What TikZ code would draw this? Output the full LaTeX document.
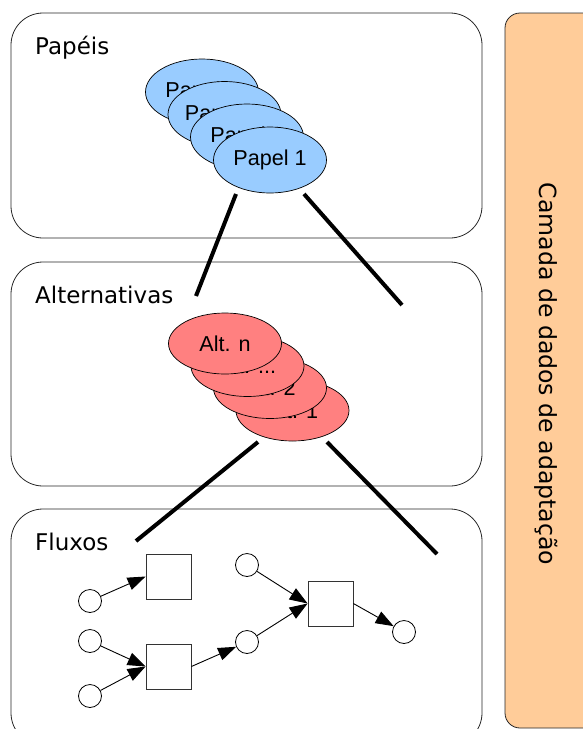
\documentclass[tikz,border=0pt]{standalone}
\usepackage{fontspec}
\setmainfont{Liberation Sans}
\newfontfamily\labelfont{DejaVu Sans}
\usetikzlibrary{shapes.geometric,arrows.meta}

\definecolor{papelblue}{HTML}{99CCFF}
\definecolor{altred}{HTML}{FF8080}
\definecolor{layerorange}{HTML}{FFCC99}

\tikzset{
  layerbox/.style={draw=black!85, line width=0.8pt, rounded corners=32pt},
  layerlabel/.style={anchor=base west, inner sep=0pt, font=\labelfont\fontsize{23}{26}\selectfont},
  papel/.style={ellipse, draw=black, line width=0.7pt, fill=papelblue, minimum width=113pt,
    minimum height=66pt, inner sep=0pt, font=\fontsize{21.6}{24}\selectfont},
  alt/.style={ellipse, draw=black, line width=0.7pt, fill=altred, minimum width=113pt,
    minimum height=61pt, inner sep=0pt, font=\fontsize{21.6}{24}\selectfont},
  zoomline/.style={line width=4pt, black},
  place/.style={circle, draw=black, line width=0.8pt, minimum size=23pt, inner sep=0pt},
  transition/.style={rectangle, draw=black!80, line width=0.8pt, minimum size=45pt, inner sep=0pt},
  flow/.style={line width=0.9pt, -{Triangle[length=18pt,width=13pt]}}
}

\begin{document}
\begin{tikzpicture}[x=1pt, y=-1pt]
\useasboundingbox (0,0) rectangle (583,729);
\clip (0,0) rectangle (583,729);

% layer boxes
\draw[layerbox] (11,13) rectangle (482,238);
\draw[layerbox] (11,262) rectangle (482,486);
\draw[layerbox] (11,509) rectangle (482,745);

\node[layerlabel] (lpap) at (35,54) {Papéis};
\node[layerlabel] (lalt) at (35,303) {Alternativas};
\node[layerlabel] (lflu) at (35,550) {Fluxos};

% adaptation data layer
\draw[draw=black!85, line width=0.8pt, fill=layerorange, rounded corners=15pt] (505,13) rectangle (610,728);
\node[rotate=-90, font=\labelfont\fontsize{23.6}{26}\selectfont] (camada) at (546,374) {Camada de dados de adaptação};

% stack of roles
\node[papel] (pn) at (202,92) {Papel n};
\node[papel] (pd) at (224.5,114.5) {Papel ...};
\node[papel] (p2) at (247,137) {Papel 2};
\node[papel] (p1) at (270,160) {Papel 1};

% stack of alternatives
\node[alt] (a1) at (292.5,410.5) {Alt. 1};
\node[alt] (a2) at (270,388) {Alt. 2};
\node[alt] (ad) at (247.5,366) {Alt. ...};
\node[alt] (an) at (225,343.5) {Alt. n};

% zoom lines between layers
\coordinate (z1a) at (236,194);
\coordinate (z1b) at (196,296);
\coordinate (z1c) at (304,194);
\coordinate (z1d) at (402,305);
\coordinate (z2a) at (258,442);
\coordinate (z2b) at (136,541);
\coordinate (z2c) at (327,442);
\coordinate (z2d) at (437,554);
\draw[zoomline] (z1a) -- (z1b);
\draw[zoomline] (z1c) -- (z1d);
\draw[zoomline] (z2a) -- (z2b);
\draw[zoomline] (z2c) -- (z2d);

% flow net
\node[place] (ca) at (90,601) {};
\node[place] (cb) at (90,641) {};
\node[place] (cc) at (90,696) {};
\node[place] (cd) at (247,565) {};
\node[place] (ce) at (247,642) {};
\node[place] (cf) at (404,632) {};
\node[transition] (t1) at (168.5,576.5) {};
\node[transition] (t2) at (168.5,666.5) {};
\node[transition] (t3) at (330.5,603.5) {};

\draw[flow] (ca) -- (t1.west);
\draw[flow] (cb) -- (t2.west);
\draw[flow] (cc) -- (t2.west);
\draw[flow] (t2.east) -- (ce);
\draw[flow] (cd) -- (t3.west);
\draw[flow] (ce) -- (t3.west);
\draw[flow] (t3.east) -- (cf);
\end{tikzpicture}
\end{document}
